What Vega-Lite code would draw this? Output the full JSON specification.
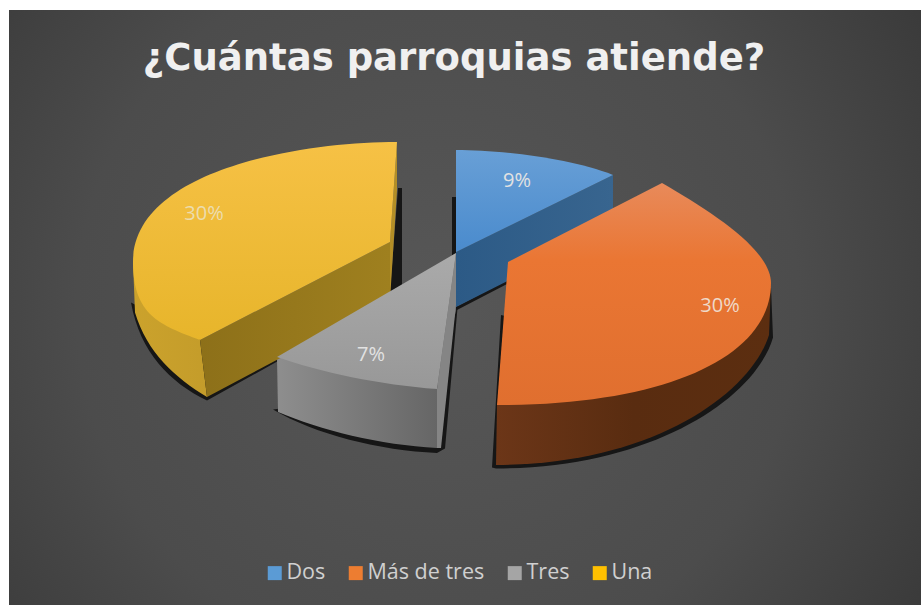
{
"$schema":"https://vega.github.io/schema/vega-lite/v6.json",
"width":912,"height":595,
"autosize":{"type":"none"},
"padding":{"left":9,"top":10,"right":0,"bottom":0},
"background":"white",
"title":{"text":"¿Cuántas parroquias atiende?","anchor":"middle","offset":-68,"fontSize":37,"font":"DejaVu Sans","fontWeight":"bold","color":"#f0f0f0","dx":-11},
"view":{"stroke":null,"fill":{"gradient":"radial","x1":0.47,"y1":0.5,"r1":0,"x2":0.47,"y2":0.5,"r2":0.72,"stops":[{"offset":0,"color":"#575757"},{"offset":0.55,"color":"#4c4c4c"},{"offset":1,"color":"#333333"}]}},
"data":{"values":[
{"categoria":"Una","valor":30,"etiqueta":"30%"},
{"categoria":"Dos","valor":9,"etiqueta":"9%"},
{"categoria":"Más de tres","valor":30,"etiqueta":"30%"},
{"categoria":"Tres","valor":7,"etiqueta":"7%"}
]},
"resolve":{"scale":{"shape":"independent","color":"independent"}},
"layer":[
{"mark":{"type":"point","filled":true,"size":0,"opacity":1,"strokeWidth":0,"shape":"square"},
 "encoding":{
  "color":{"field":"categoria","scale":{"domain":["Dos","Más de tres","Tres","Una"],"range":["#5b9bd5","#ed7d31","#a5a5a5","#ffc000"]},
   "legend":{"title":null,"orient":"none","legendX":255,"legendY":552,"direction":"horizontal","symbolType":"square","symbolSize":196,"symbolStrokeWidth":0,"labelFont":"Open Sans","labelFontSize":21.5,"labelColor":"#d0d0d0","labelOffset":1,"columnPadding":19,"labelLimit":200}}}},
{"mark":{"type":"point","filled":true,"size":4,"opacity":1,"strokeWidth":0,"fill":"#161616"},
 "encoding":{"shape":{"field":"categoria","legend":null,"scale":{"domain":["Dos","Más de tres","Tres","Una"],"range":[
  "M-13,-110.5 L-9,-110.5 L-9,-54 L-13,-52 Z M-9,3 L43,-24 L43,-28 L-9,-0.5 Z",
  "M36,7.5 L27,160 L31,161 C185,161 290,92 308,30 L306,-20 L200,50 Z",
  "M-192,102 C-150,127 -85,143 -28,145.5 L-20,141 L-7,-5 L-28,81 Z",
  "M-334,-5 C-325,45 -295,75 -258,93 L-186,53 L-265,32 Z M-67,-119.5 L-63,-119.5 L-63,-20.5 L-75,-15.5 Z"]}}}},
{"mark":{"type":"point","filled":true,"size":4,"opacity":1,"strokeWidth":0},
 "encoding":{
  "shape":{"field":"categoria","legend":null,"scale":{"domain":["Dos","Más de tres","Tres","Una"],"range":[
   "M-9,-55.5 L148,-132.5 L148,-79.5 L-9,-0.5 Z",
   "M306,-24.5 L304,27.5 C285,87.5 185,157.5 31,157.5 L32,97.5 Z",
   "M-188,49.5 L-187,104.5 C-145,122.5 -85,137.5 -28,140.5 L-28,81.5 Z",
   "M-332,-45.5 L-330,5 C-318,45 -290,70 -258,89.5 L-265,32.5 Z M-68,-165.5 L-75,-65.5 L-75,-7.5 L-68,-117.5 Z"]}},
  "color":{"condition":[
   {"test":"datum.categoria==='Dos'","value":{"gradient":"linear","x1":0,"y1":0,"x2":1,"y2":0,"stops":[{"offset":0,"color":"#2c5a86"},{"offset":1,"color":"#38658f"}]}},
   {"test":"datum.categoria==='Más de tres'","value":{"gradient":"linear","x1":0,"y1":0,"x2":1,"y2":0,"stops":[{"offset":0,"color":"#6c3618"},{"offset":0.5,"color":"#592c10"},{"offset":1,"color":"#5c2e10"}]}},
   {"test":"datum.categoria==='Tres'","value":{"gradient":"linear","x1":0,"y1":0,"x2":1,"y2":0,"stops":[{"offset":0,"color":"#8e8e8e"},{"offset":1,"color":"#666666"}]}}],
   "value":{"gradient":"linear","x1":0,"y1":0,"x2":1,"y2":0,"stops":[{"offset":0,"color":"#cba22c"},{"offset":1,"color":"#b38e26"}]}}}},
{"transform":[{"filter":"datum.categoria==='Una'||datum.categoria==='Tres'"}],
 "mark":{"type":"point","filled":true,"size":4,"opacity":1,"strokeWidth":0},
 "encoding":{
  "shape":{"field":"categoria","legend":null,"scale":{"domain":["Tres","Una"],"range":[
   "M-9,-54.5 L-28,81.5 L-28,140.5 L-24,140.5 L-9,-2.5 Z",
   "M-75,-65.5 L-265,32.5 L-258,89.5 L-75,-7.5 Z"]}},
  "color":{"condition":[{"test":"datum.categoria==='Tres'","value":"#858585"}],
   "value":{"gradient":"linear","x1":0,"y1":0,"x2":1,"y2":0,"stops":[{"offset":0,"color":"#8d7019"},{"offset":1,"color":"#9f801f"}]}}}},
{"mark":{"type":"point","filled":true,"size":4,"opacity":1,"strokeWidth":0},
 "encoding":{
  "shape":{"field":"categoria","legend":null,"scale":{"domain":["Dos","Más de tres","Tres","Una"],"range":[
   "M-9,-55.5 L-9,-157.5 C35,-157.5 105,-149.5 148,-132.5 Z",
   "M43,-45.5 L197,-124.5 C247,-95.5 306,-57.5 306,-24.5 C306,47.5 205,97.5 32,97.5 Z",
   "M-9,-54.5 L-188,49.5 C-145,64.5 -85,77.5 -28,81.5 Z",
   "M-68,-165.5 C-165,-165.5 -332,-137.5 -332,-45.5 C-332,7.5 -305,17.5 -265,32.5 L-75,-65.5 Z"]}},
  "color":{"condition":[
   {"test":"datum.categoria==='Dos'","value":{"gradient":"linear","x1":0,"y1":0,"x2":0,"y2":1,"stops":[{"offset":0,"color":"#689fd6"},{"offset":1,"color":"#4a8bcd"}]}},
   {"test":"datum.categoria==='Más de tres'","value":{"gradient":"linear","x1":0,"y1":0,"x2":0,"y2":1,"stops":[{"offset":0,"color":"#e88a5a"},{"offset":0.35,"color":"#ea7633"},{"offset":1,"color":"#e06f2f"}]}},
   {"test":"datum.categoria==='Tres'","value":{"gradient":"linear","x1":0,"y1":0,"x2":0,"y2":1,"stops":[{"offset":0,"color":"#aaaaaa"},{"offset":1,"color":"#989898"}]}}],
   "value":{"gradient":"linear","x1":0,"y1":0,"x2":0,"y2":1,"stops":[{"offset":0,"color":"#f6c145"},{"offset":1,"color":"#e7b52b"}]}}}},
{"transform":[{"filter":"datum.categoria==='Dos'"}],"mark":{"type":"text","dx":52,"dy":-126.5,"font":"Open Sans","fontSize":20,"color":"#e2e2e2"},"encoding":{"text":{"field":"etiqueta"}}},
{"transform":[{"filter":"datum.categoria==='Más de tres'"}],"mark":{"type":"text","dx":255,"dy":-1.5,"font":"Open Sans","fontSize":20,"color":"#efd9c8"},"encoding":{"text":{"field":"etiqueta"}}},
{"transform":[{"filter":"datum.categoria==='Tres'"}],"mark":{"type":"text","dx":-94,"dy":47.5,"font":"Open Sans","fontSize":20,"color":"#e2e2e2"},"encoding":{"text":{"field":"etiqueta"}}},
{"transform":[{"filter":"datum.categoria==='Una'"}],"mark":{"type":"text","dx":-261,"dy":-93.5,"font":"Open Sans","fontSize":20,"color":"#ecdcae"},"encoding":{"text":{"field":"etiqueta"}}}
]
}
